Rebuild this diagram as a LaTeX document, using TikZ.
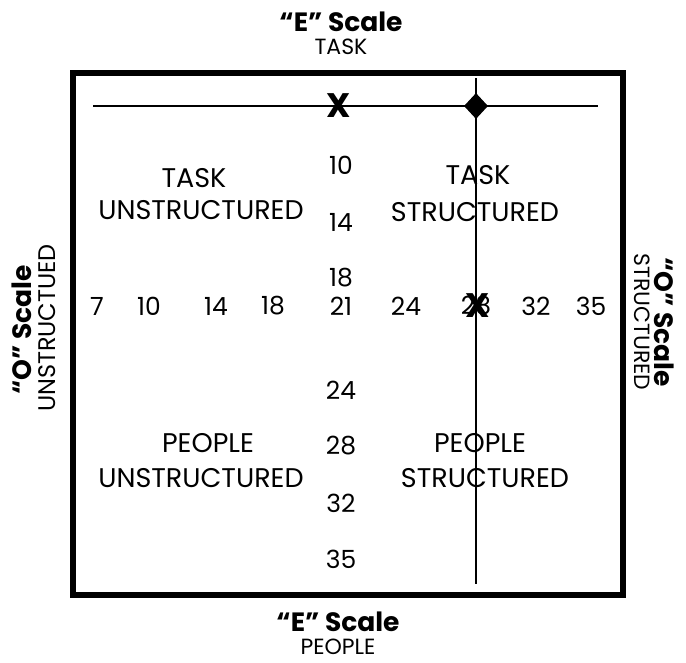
\documentclass[tikz,border=0pt]{standalone}
\usepackage{fontspec}
\setmainfont{Poppins}
\usetikzlibrary{shapes.geometric}
\begin{document}
\begin{tikzpicture}[x=1pt,y=-1pt,
  lbl/.style={inner sep=0pt,font=\fontsize{27}{30}\selectfont,align=center},
  num/.style={inner sep=0pt,font=\fontsize{25}{26}\selectfont},
  headtxt/.style={inner sep=0pt,font=\fontsize{26.5}{28}\selectfont\bfseries},
  subtxt/.style={inner sep=0pt,font=\fontsize{22}{24}\selectfont},
  framebox/.style={line width=5.5pt},
  axisline/.style={line width=2pt},
  xmark/.style={inner sep=0pt,font=\fontsize{34}{34}\selectfont\bfseries}]
\useasboundingbox (0,0) rectangle (686,662);
\node[draw,framebox,minimum width=550pt,minimum height=522pt,inner sep=0pt] (box) at (347.75,334) {};
% axes
\coordinate (hl) at (93,106);
\coordinate (hr) at (598,106);
\coordinate (vt) at (476,78);
\coordinate (vb) at (476,584);
\draw[axisline] (hl) -- (hr);
\draw[axisline] (vt) -- (vb);
\node[diamond,fill=black,inner sep=0pt,minimum width=24pt,minimum height=26pt] (dia) at (476,106) {};
% vertical numbers
\node[num] (v10) at (341,165) {10};
\node[num] (v14) at (341,222) {14};
\node[num] (v18) at (341,278) {18};
\node[num] (c21) at (341,306) {21};
\node[num] (v24) at (341,390) {24};
\node[num] (v28) at (341,446) {28};
\node[num] (v32) at (341,503) {32};
\node[num] (v35) at (341,559) {35};
% horizontal numbers
\node[num] (h7) at (97,306) {7};
\node[num] (h10) at (149,306) {10};
\node[num] (h14) at (216,306) {14};
\node[num] (h18) at (273,306) {18};
\node[num] (h24) at (406,306) {24};
\node[num] (h28) at (476,306) {28};
\node[num] (h32) at (536,306) {32};
\node[num] (h35) at (591,306) {35};
% marks
\node[xmark] (x1) at (339,106) {X};
\node[xmark] (x2) at (478,306) {X};
% quadrant labels
\node[lbl] (tu1) at (194,178.5) {TASK};
\node[lbl] (tu2) at (201,210) {UNSTRUCTURED};
\node[lbl] (ts1) at (478,175) {TASK};
\node[lbl] (ts2) at (475,212) {STRUCTURED};
\node[lbl] (pu1) at (208,443) {PEOPLE};
\node[lbl] (pu2) at (201,478) {UNSTRUCTURED};
\node[lbl] (ps1) at (480,443) {PEOPLE};
\node[lbl] (ps2) at (485,478) {STRUCTURED};
% scale titles
\node[headtxt] (et) at (341,22) {“E” Scale};
\node[subtxt] (etl) at (341,47) {TASK};
\node[headtxt] (eb) at (338,622) {“E” Scale};
\node[subtxt] (ebl) at (338,647) {PEOPLE};
\node[headtxt,rotate=90] (ol) at (22,330) {“O” Scale};
\node[subtxt,rotate=90,font=\fontsize{24}{26}\selectfont] (oll) at (47,328) {UNSTRUCTUED};
\node[headtxt,rotate=-90] (or) at (664,322) {“O” Scale};
\node[subtxt,rotate=-90] (orl) at (642,322) {STRUCTURED};
\end{tikzpicture}
\end{document}
